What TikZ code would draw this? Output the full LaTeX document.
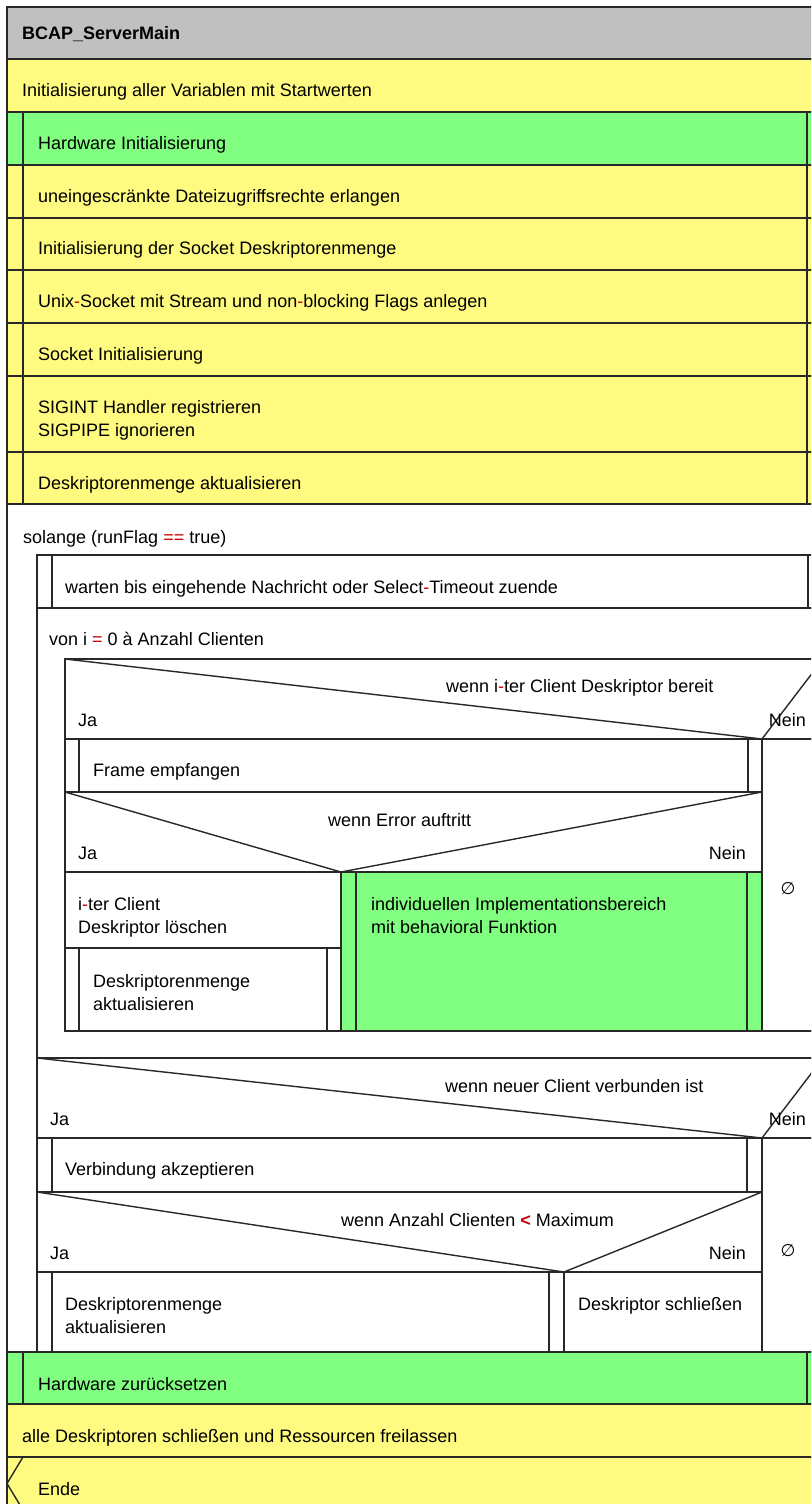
\documentclass[tikz,border=0pt]{standalone}
\usepackage{fontspec}
\setmainfont{Liberation Sans}
\newfontfamily\symfont{DejaVu Sans}
\definecolor{nsgray}{RGB}{192,192,192}
\definecolor{nsyellow}{RGB}{255,250,128}
\definecolor{nsgreen}{RGB}{128,255,128}
\definecolor{nsline}{RGB}{40,40,40}
\definecolor{nsred}{RGB}{200,0,0}
\newcommand{\rd}[1]{\textcolor{nsred}{#1}}
\newcommand{\nsfont}{\fontsize{18}{23}\selectfont}
% call element: left, top, right, bottom, fill colour, bar width
\newcommand{\nscall}[6]{%
  \path[fill=#5] (#1,#2) rectangle (#3,#4);
  \draw[ln] (#1,#2) rectangle (#3,#4)
    ({#1+#6},#2) -- ({#1+#6},#4) ({#3-#6},#2) -- ({#3-#6},#4);}
% plain instruction: left, top, right, bottom, fill colour
\newcommand{\nsinstr}[5]{%
  \path[fill=#5] (#1,#2) rectangle (#3,#4);
  \draw[ln] (#1,#2) rectangle (#3,#4);}
\begin{document}
\begin{tikzpicture}[x=1pt,y=-1pt,
  ln/.style={draw=nsline, line width=1.4pt},
  txt/.style={anchor=base west, inner sep=0pt, font=\nsfont},
  rtxt/.style={anchor=base east, inner sep=0pt, font=\nsfont},
  nsempty/.style={anchor=center, inner sep=0pt, font=\symfont\fontsize{17}{17}\selectfont}]
\useasboundingbox (0,0) rectangle (811,1504);
\fill[white] (0,0) rectangle (811,1504);
\clip (0,0) rectangle (811,1504);

% ---- program head and initialisation ----
\nsinstr{7}{7}{823}{59}{nsgray}
\nsinstr{7}{59}{823}{112}{nsyellow}
\nscall{7}{112}{823}{165}{nsgreen}{16}
\nscall{7}{165}{823}{218}{nsyellow}{16}
\nscall{7}{218}{823}{270}{nsyellow}{16}
\nscall{7}{270}{823}{323}{nsyellow}{16}
\nscall{7}{323}{823}{376}{nsyellow}{16}
\nscall{7}{376}{823}{452}{nsyellow}{16}
\nscall{7}{452}{823}{504}{nsyellow}{16}

\node[txt, font=\nsfont\bfseries] (title) at (22,40) {BCAP\_ServerMain};
\node[txt] (init) at (22,96) {Initialisierung aller Variablen mit Startwerten};
\node[txt] (hwinit) at (38,149) {Hardware Initialisierung};
\node[txt] (rights) at (38,202) {uneingescränkte Dateizugriffsrechte erlangen};
\node[txt] (fdset) at (38,254) {Initialisierung der Socket Deskriptorenmenge};
\node[txt] (unix) at (38,307) {Unix\rd{-}Socket mit Stream und non\rd{-}blocking Flags anlegen};
\node[txt] (sockinit) at (38,360) {Socket Initialisierung};
\node[txt] (sigint) at (38,413) {SIGINT Handler registrieren};
\node[txt] (sigpipe) at (38,436) {SIGPIPE ignorieren};
\node[txt] (fdupd) at (38,489) {Deskriptorenmenge aktualisieren};

% ---- while loop ----
\path[fill=white] (7,504) rectangle (823,1352);
\draw[ln] (7,504) rectangle (823,1352);
\node[txt] (while) at (23,543) {solange (runFlag \rd{==} true)};

\nscall{37}{555}{823}{608}{white}{15}
\node[txt] (wait) at (65,593) {warten bis eingehende Nachricht oder Select\rd{-}Timeout zuende};

% ---- for loop ----
\draw[ln] (37,608) rectangle (823,1058);
\draw[ln] (65,1031) -- (823,1031);
\node[txt] (for) at (49,645) {von i \rd{=} 0 à Anzahl Clienten};

% decision: client descriptor ready
\draw[ln] (65,659) rectangle (823,739);
\draw[ln] (65,659) -- (762,739) -- (823,659);
\node[txt] (cond1) at (446,692) {wenn i\rd{-}ter Client Deskriptor bereit};
\node[txt] (ja1) at (78,726) {Ja};
\node[rtxt] (nein1) at (806,726) {Nein};

\nscall{65}{739}{762}{792}{white}{14}
\node[txt] (frame) at (93,776) {Frame empfangen};

% decision: error
\draw[ln] (65,792) rectangle (762,872);
\draw[ln] (65,792) -- (341,872) -- (762,792);
\node[txt] (cond2) at (328,826) {wenn Error auftritt};
\node[txt] (ja2) at (78,859) {Ja};
\node[rtxt] (nein2) at (746,859) {Nein};

\nsinstr{65}{872}{341}{948}{white}
\node[txt] (del1) at (78,910) {i\rd{-}ter Client};
\node[txt] (del2) at (78,933) {Deskriptor löschen};
\nscall{65}{948}{341}{1031}{white}{14}
\node[txt] (upd1) at (93,987) {Deskriptorenmenge};
\node[txt] (upd2) at (93,1010) {aktualisieren};
\nscall{341}{872}{762}{1031}{nsgreen}{15}
\node[txt] (impl1) at (371,910) {individuellen Implementationsbereich};
\node[txt] (impl2) at (371,933) {mit behavioral Funktion};

\draw[ln] (762,739) rectangle (823,1031);
\node[nsempty] (empty1) at (788,889) {∅};

% ---- decision: new client connected ----
\draw[ln] (37,1058) rectangle (823,1138);
\draw[ln] (37,1058) -- (762,1138) -- (823,1058);
\node[txt] (cond3) at (445,1092) {wenn neuer Client verbunden ist};
\node[txt] (ja3) at (50,1125) {Ja};
\node[rtxt] (nein3) at (806,1125) {Nein};

\nscall{37}{1138}{762}{1192}{white}{15}
\node[txt] (accept) at (65,1175) {Verbindung akzeptieren};

% decision: below maximum
\draw[ln] (37,1192) rectangle (762,1272);
\draw[ln] (37,1192) -- (564,1272) -- (762,1192);
\node[txt] (cond4) at (341,1226) {wenn Anzahl Clienten \textbf{\rd{<}} Maximum};
\node[txt] (ja4) at (50,1259) {Ja};
\node[rtxt] (nein4) at (746,1259) {Nein};

\nscall{37}{1272}{564}{1352}{white}{15}
\node[txt] (upd3) at (65,1310) {Deskriptorenmenge};
\node[txt] (upd4) at (65,1333) {aktualisieren};
\nsinstr{564}{1272}{762}{1352}{white}
\node[txt] (close) at (578,1310) {Deskriptor schließen};

\draw[ln] (762,1138) rectangle (823,1352);
\node[nsempty] (empty2) at (788,1251) {∅};

% ---- shutdown ----
\nscall{7}{1352}{823}{1404}{nsgreen}{16}
\node[txt] (hwreset) at (38,1390) {Hardware zurücksetzen};
\nsinstr{7}{1404}{823}{1457}{nsyellow}
\node[txt] (release) at (22,1442) {alle Deskriptoren schließen und Ressourcen freilassen};
\nsinstr{7}{1457}{823}{1510}{nsyellow}
\draw[ln] (23,1457) -- (7,1483.5) -- (23,1510);
\node[txt] (ende) at (38,1495) {Ende};
\end{tikzpicture}
\end{document}
